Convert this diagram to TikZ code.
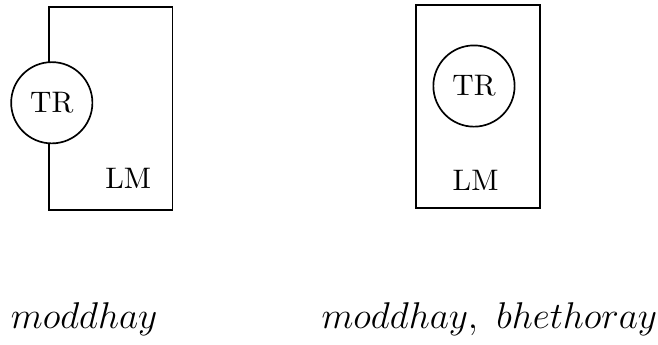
\RequirePackage{fix-cm}
\documentclass[tikz,border=0pt]{standalone}
\usetikzlibrary{positioning}
\tikzset{
  lmbox/.style={draw=black, semithick, minimum width=1.55cm, minimum height=2.55cm, inner sep=0pt},
  trcirc/.style={draw=black, semithick, fill=white, circle, minimum size=1.02cm, inner sep=0pt},
  caption/.style={inner sep=0pt, anchor=west, font=\fontsize{13.3}{16}\selectfont}
}
\begin{document}
\begin{tikzpicture}[font=\fontsize{10.6}{12}\selectfont]
    \useasboundingbox (0,0) rectangle (8.26,4.33);
    % left: TR on the edge of LM
    \node[lmbox] (lmA) at (1.39,2.97) {};
    \node[trcirc] (trA) at (0.65,3.04) {TR};
    \node (lbA) at (1.61,2.09) {LM};
    \node[caption] (capA) at (0.13,0.32) {$moddhay$};

    % right: TR inside LM
    \node[lmbox] (lmB) at (6.0,2.99) {};
    \node[trcirc] (trB) at (5.95,3.25) {TR};
    \node (lbB) at (5.97,2.06) {LM};
    \node[caption] (capB) at (4.03,0.32) {$moddhay,\ bhethoray$};
  \end{tikzpicture}
\end{document}
